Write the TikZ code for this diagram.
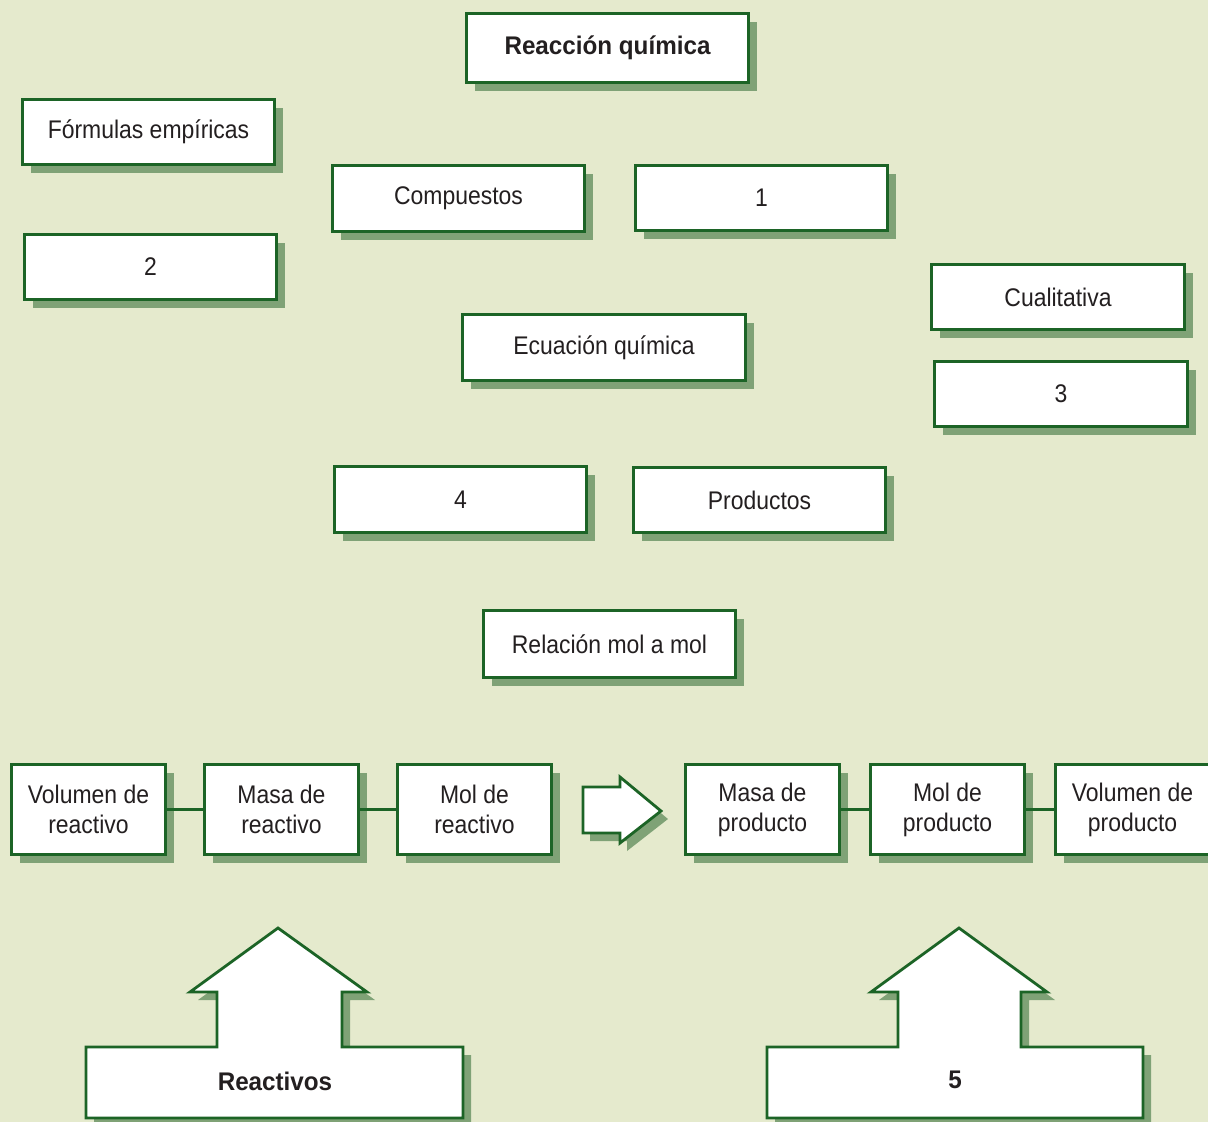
\documentclass[tikz,border=0pt]{standalone}
\usepackage{fontspec}
\setmainfont[FakeStretch=0.9,BoldFeatures={FakeStretch=0.95}]{Liberation Sans}
\usetikzlibrary{shadows}
\definecolor{bgc}{HTML}{E5EACD}
\definecolor{bordc}{HTML}{1C6426}
\definecolor{shadc}{HTML}{7FA276}
\definecolor{txtc}{HTML}{231F20}
\tikzset{
  box/.style={draw=bordc, line width=2.8pt, fill=white, text=txtc,
    inner sep=0pt, align=center, font=\fontsize{25.5}{30}\selectfont,
    drop shadow={shadow xshift=8pt, shadow yshift=-8pt, fill=shadc, opacity=1}},
  sbox/.style={box, minimum width=252pt, minimum height=65pt},
  rowbox/.style={box, minimum width=154pt, minimum height=90pt},
  conn/.style={draw=bordc, line width=2.8pt},
  bigarrow/.style={draw=bordc, line width=2.8pt, fill=white, line join=miter},
  arrowshadow/.style={fill=shadc},
  lbl/.style={text=txtc, font=\fontsize{25.5}{30}\selectfont\bfseries, inner sep=0pt}
}
\begin{document}
\begin{tikzpicture}[x=1pt,y=-1pt]
\fill[bgc] (0,0) rectangle (1208,1122);
\useasboundingbox (0,0) rectangle (1208,1122);

\node[sbox, minimum width=282pt, minimum height=69pt, font=\fontsize{25.5}{30}\selectfont\bfseries] (rq) at (607.5,48) {Reacción química};
\node[sbox] (fe) at (148.5,132) {Fórmulas empíricas};
\node[sbox] (n2) at (150.5,267) {2};
\node[sbox, minimum height=66pt] (comp) at (458.5,198.5) {Compuestos};
\node[sbox] (n1) at (761.5,198) {1};
\node[sbox, minimum width=253pt] (cual) at (1058,297) {Cualitativa};
\node[sbox, minimum width=253pt] (n3) at (1061,394) {3};
\node[sbox, minimum width=283pt, minimum height=66pt] (ecu) at (604,347.5) {Ecuación química};
\node[sbox, minimum height=66pt] (n4) at (460.5,499.5) {4};
\node[sbox] (prod) at (759.5,500) {Productos};
\node[sbox, minimum height=67pt] (rel) at (609.5,644) {Relación mol a mol};

\node[rowbox] (vr) at (88.5,809.5) {Volumen de\\reactivo};
\node[rowbox] (mr) at (281.5,809.5) {Masa de\\reactivo};
\node[rowbox] (molr) at (474.5,809.5) {Mol de\\reactivo};
\node[rowbox] (mp) at (762.5,809.5) {Masa de\\producto};
\node[rowbox] (molp) at (947.5,809.5) {Mol de\\producto};
\node[rowbox] (vp) at (1132.5,809.5) {Volumen de\\producto};

\draw[conn] (vr.east) -- (mr.west);
\draw[conn] (mr.east) -- (molr.west);
\draw[conn] (mp.east) -- (molp.west);
\draw[conn] (molp.east) -- (vp.west);

% right arrow
\fill[arrowshadow, shift={(7,8)}] (583,787) -- (620,787) -- (620,777) -- (661,811) -- (620,843) -- (620,833) -- (583,833) -- cycle;
\draw[bigarrow] (583,787) -- (620,787) -- (620,777) -- (661,811) -- (620,843) -- (620,833) -- (583,833) -- cycle;

% Reactivos up arrow
\fill[arrowshadow, shift={(8,8)}] (86,1118) -- (86,1047) -- (217,1047) -- (217,992) -- (190,992) -- (278,928) -- (367,992) -- (342,992) -- (342,1047) -- (463,1047) -- (463,1118) -- cycle;
\draw[bigarrow] (86,1118) -- (86,1047) -- (217,1047) -- (217,992) -- (190,992) -- (278,928) -- (367,992) -- (342,992) -- (342,1047) -- (463,1047) -- (463,1118) -- cycle;
\node[lbl] (reac) at (275,1081) {Reactivos};

% 5 up arrow
\fill[arrowshadow, shift={(8,8)}] (767,1118) -- (767,1047) -- (898,1047) -- (898,992) -- (871,992) -- (959,928) -- (1047,992) -- (1021,992) -- (1021,1047) -- (1143,1047) -- (1143,1118) -- cycle;
\draw[bigarrow] (767,1118) -- (767,1047) -- (898,1047) -- (898,992) -- (871,992) -- (959,928) -- (1047,992) -- (1021,992) -- (1021,1047) -- (1143,1047) -- (1143,1118) -- cycle;
\node[lbl] (five) at (955,1080) {5};
\end{tikzpicture}
\end{document}
